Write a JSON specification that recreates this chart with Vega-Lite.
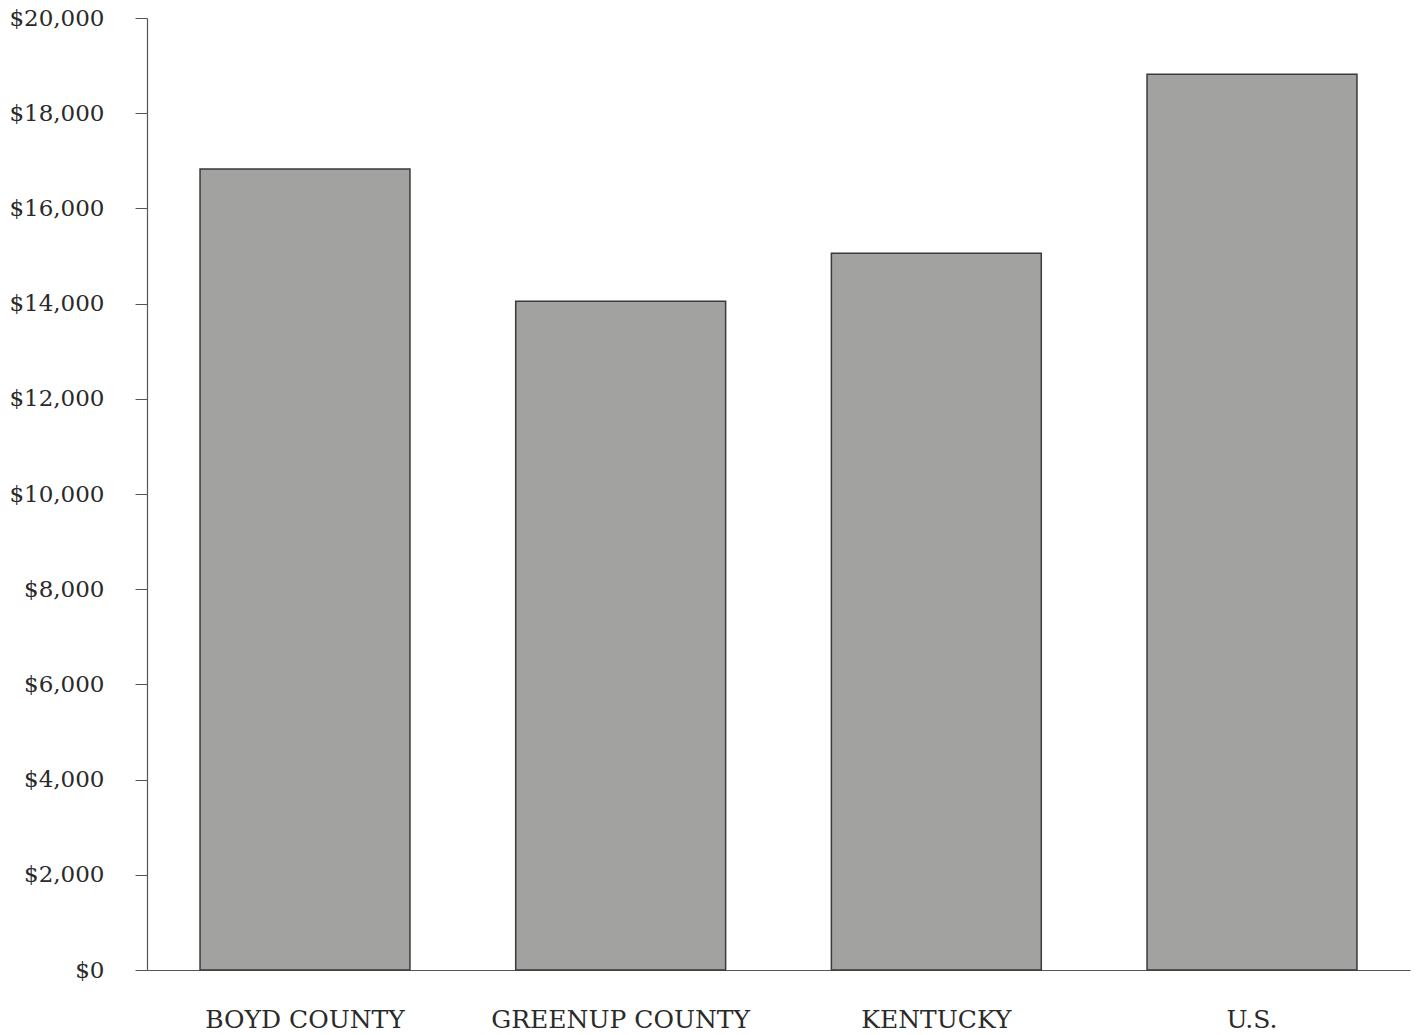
{
  "$schema": "https://vega.github.io/schema/vega-lite/v6.json",
  "width": 1263,
  "height": 952,
  "autosize": {"type": "none"},
  "padding": {"left": 147, "top": 18, "right": 8, "bottom": 65},
  "background": "white",
  "config": {
    "view": {"stroke": null},
    "font": "DejaVu Serif"
  },
  "data": {
    "values": [
      {"area": "BOYD COUNTY", "income": 16830},
      {"area": "GREENUP COUNTY", "income": 14050},
      {"area": "KENTUCKY", "income": 15060},
      {"area": "U.S.", "income": 18820}
    ]
  },
  "mark": {"type": "bar", "fill": "#a2a2a0", "stroke": "#3a3a3a", "strokeWidth": 1.5},
  "encoding": {
    "x": {
      "field": "area",
      "type": "nominal",
      "sort": null,
      "scale": {"paddingInner": 0.335, "paddingOuter": 0.168},
      "axis": {
        "title": null,
        "labelAngle": 0,
        "labelLimit": 0,
        "labelFont": "DejaVu Serif",
        "labelFontSize": 25,
        "labelColor": "#2a2a2a",
        "labelPadding": 37,
        "ticks": false,
        "domainColor": "#555",
        "domainWidth": 1.2
      }
    },
    "y": {
      "field": "income",
      "type": "quantitative",
      "scale": {"domain": [0, 20000], "nice": false},
      "axis": {
        "title": null,
        "values": [0, 2000, 4000, 6000, 8000, 10000, 12000, 14000, 16000, 18000, 20000],
        "format": "$,d",
        "grid": false,
        "labelFont": "DejaVu Serif",
        "labelFontSize": 23,
        "labelColor": "#2a2a2a",
        "labelPadding": 31,
        "tickSize": 12,
        "tickColor": "#555",
        "domainColor": "#555",
        "domainWidth": 1.2
      }
    }
  }
}
